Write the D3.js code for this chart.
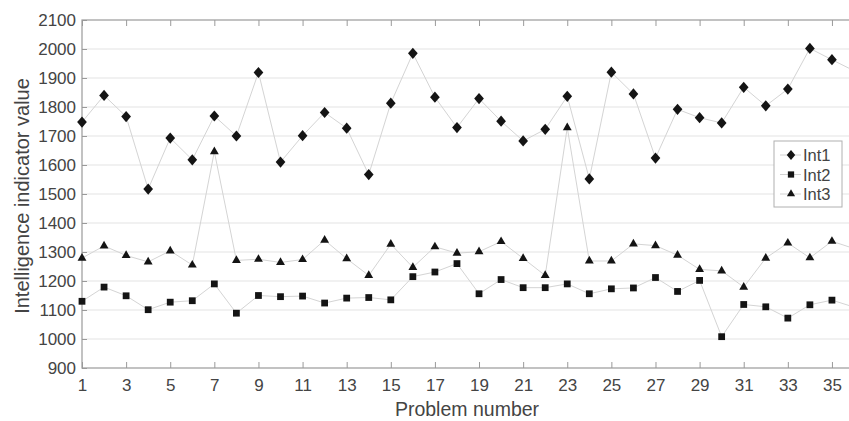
<!DOCTYPE html>
<html>
<head>
  <meta charset="utf-8">
  <title>Intelligence indicator</title>
  <script src="https://cdn.jsdelivr.net/npm/d3@7"></script>
  <style>
    html, body { margin: 0; padding: 0; background: #fff; overflow: hidden; }
    text { font-family: "Liberation Sans", Arial, sans-serif; fill: #444; }
    .grid line { stroke: #ececec; stroke-width: 1.5px; }
    .series { fill: none; stroke: #d4d4d4; stroke-width: 1px; }
  </style>
</head>
<body>
<div id="chart"></div>
<script>
  // problem numbers 1..36 (36 is cut off at the right edge)
  var problems = d3.range(1, 37);

  var int1 = [1748, 1840, 1767, 1517, 1693, 1618, 1769, 1700, 1919, 1610,
              1701, 1781, 1727, 1567, 1813, 1985, 1834, 1729, 1829, 1751,
              1683, 1723, 1837, 1552, 1920, 1845, 1624, 1792, 1763, 1745,
              1868, 1804, 1862, 2002, 1963, 1925];
  var int2 = [1130, 1179, 1149, 1101, 1127, 1132, 1190, 1089, 1150, 1146,
              1148, 1124, 1141, 1143, 1135, 1215, 1231, 1260, 1156, 1205,
              1177, 1177, 1190, 1156, 1173, 1176, 1212, 1164, 1202, 1008,
              1119, 1111, 1072, 1118, 1134, 1110];
  var int3 = [1279, 1321, 1288, 1266, 1304, 1255, 1646, 1271, 1275, 1264,
              1274, 1341, 1277, 1219, 1327, 1247, 1318, 1296, 1301, 1336,
              1278, 1219, 1729, 1269, 1269, 1328, 1322, 1289, 1240, 1235,
              1179, 1279, 1331, 1280, 1337, 1312];

  var seriesNames = ["Int1", "Int2", "Int3"];
  var yTicks = d3.range(900, 2101, 100);
  var xTicks = d3.range(1, 36, 2);

  var margin = {top: 20, left: 82},
      width = 772, height = 348;

  var svg = d3.select("#chart").append("svg")
      .attr("width", 870).attr("height", 421);
  var g = svg.append("g").attr("transform", "translate(" + margin.left + "," + margin.top + ")");

  var x = d3.scaleLinear().domain([1, 36]).range([0, width]);
  var y = d3.scaleLinear().domain([900, 2100]).range([height, 0]);

  // gridlines
  g.append("g").attr("class", "grid")
    .selectAll("line").data(yTicks.slice(1, -1)).enter().append("line")
    .attr("x1", 0).attr("x2", width)
    .attr("y1", function(d) { return y(d); }).attr("y2", function(d) { return y(d); });

  // axes, ticks inward like matlab
  var axisColor = "#9a9a9a";
  var styleAxis = function(sel) {
    sel.select(".domain").remove();
    sel.selectAll(".tick line").attr("stroke", axisColor);
    sel.selectAll("text").attr("font-size", "17px").attr("fill", "#444");
  };

  g.append("g").attr("transform", "translate(0," + height + ")")
    .call(d3.axisBottom(x).tickValues(xTicks).tickSizeInner(-6).tickSizeOuter(0).tickPadding(11).tickFormat(d3.format("d")))
    .call(styleAxis);
  g.append("g")
    .call(d3.axisTop(x).tickValues(xTicks).tickSizeInner(-6).tickSizeOuter(0).tickFormat(""))
    .call(styleAxis);
  g.append("g")
    .call(d3.axisLeft(y).tickValues(yTicks).tickSizeInner(-5).tickSizeOuter(0).tickPadding(6).tickFormat(d3.format("d")))
    .call(styleAxis);
  g.append("g").attr("transform", "translate(" + width + ",0)")
    .call(d3.axisRight(y).tickValues(yTicks).tickSizeInner(-5).tickSizeOuter(0).tickFormat(""))
    .call(styleAxis);

  // box
  g.append("rect").attr("width", width).attr("height", height)
    .attr("fill", "none").attr("stroke", axisColor).attr("stroke-width", 1.2);

  // series markers: diamond = rotated square
  var symbols = [d3.symbolSquare, d3.symbolSquare, d3.symbolTriangle];
  var sizes = [52, 46, 34];
  var extra = ["rotate(45)", "", ""];
  var data = [int1, int2, int3];

  var line = d3.line()
    .x(function(d, i) { return x(problems[i]); })
    .y(function(d) { return y(d); });

  data.forEach(function(vals) {
    g.append("path").attr("class", "series").attr("d", line(vals));
  });
  data.forEach(function(vals, k) {
    g.selectAll(".pt" + k).data(vals).enter().append("path")
      .attr("class", "pt" + k)
      .attr("transform", function(d, i) {
        return "translate(" + x(problems[i]) + "," + y(d) + ")" + (k === 0 ? "scale(0.95,1.1)" : "") + extra[k];
      })
      .attr("d", d3.symbol().type(symbols[k]).size(sizes[k]))
      .attr("fill", "#141414");
  });

  // legend
  var leg = svg.append("g").attr("transform", "translate(774,141)");
  leg.append("rect").attr("width", 68).attr("height", 66)
    .attr("fill", "#fff").attr("stroke", "#b0b0b0").attr("stroke-width", 1);
  seriesNames.forEach(function(name, k) {
    var ly = 14 + k * 19.5;
    leg.append("line").attr("x1", 6).attr("x2", 27).attr("y1", ly).attr("y2", ly)
      .attr("stroke", "#d2d2d2");
    leg.append("path")
      .attr("transform", "translate(17," + ly + ")" + (k === 0 ? "scale(0.95,1.1)" : "") + extra[k])
      .attr("d", d3.symbol().type(symbols[k]).size(k === 0 ? 40 : sizes[k] * 0.85))
      .attr("fill", "#141414");
    leg.append("text").attr("x", 29).attr("y", ly + 6)
      .attr("font-size", "16.5px").text(name);
  });

  // axis titles
  svg.append("text")
    .attr("transform", "translate(29," + (margin.top + height / 2 + 2) + ")rotate(-90)")
    .attr("text-anchor", "middle").attr("font-size", "20px")
    .text("Intelligence indicator value");
  svg.append("text")
    .attr("x", margin.left + 385).attr("y", 416)
    .attr("text-anchor", "middle").attr("font-size", "19.5px")
    .text("Problem number");
</script>
</body>
</html>
